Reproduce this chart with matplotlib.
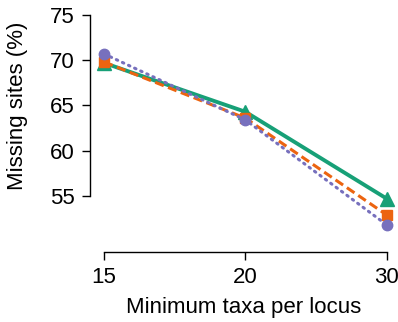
import matplotlib.pyplot as plt

# Datos
taxa = ["15", "20", "30"]
green_vals = [69.7, 64.3, 54.7]   # triángulos
orange_vals = [69.8, 63.6, 52.9]  # cuadrados
purple_vals = [70.7, 63.4, 51.8]  # círculos

plt.rcParams['font.family'] = ['Liberation Sans', 'DejaVu Sans']

fig = plt.figure(figsize=(3.98, 3.22), dpi=100)
ax = fig.add_axes([90 / 398, 1 - 252 / 322, 1 - 90 / 398, (252 - 10.5) / 322])

x = list(range(len(taxa)))
ax.plot(x, green_vals, color="#17a077", lw=2.8, marker="^", ms=9.5, zorder=2)
ax.plot(x, orange_vals, color="#ec6410", lw=2.2, ls=(0, (3, 1.5)), marker="s", ms=6.5, zorder=3)
ax.plot(x, purple_vals, color="#7770bd", lw=2.2, ls=(0, (0.5, 1.7)), dash_capstyle="round",
        marker="o", ms=7.5, zorder=4)

ax.set_xlim(-0.1, 2.08)
ax.set_ylim(48.8, 75.5)
ax.set_xticks(x)
ax.set_xticklabels(taxa)
ax.set_yticks([55, 60, 65, 70, 75])

for s in ["top", "right"]:
    ax.spines[s].set_visible(False)
ax.spines["left"].set_bounds(55, 75)
ax.spines["bottom"].set_bounds(0, 2)
ax.spines["left"].set_linewidth(1.0)
ax.spines["bottom"].set_linewidth(1.0)
ax.tick_params(direction="out", length=6, width=1.0, labelsize=16, pad=5)

ax.set_ylabel("Missing sites (%)", fontsize=16)
ax.yaxis.set_label_coords(-0.2, 0.605)
ax.set_xlabel("Minimum taxa per locus", fontsize=16, labelpad=6)

fig.savefig("out.png", dpi=100)
